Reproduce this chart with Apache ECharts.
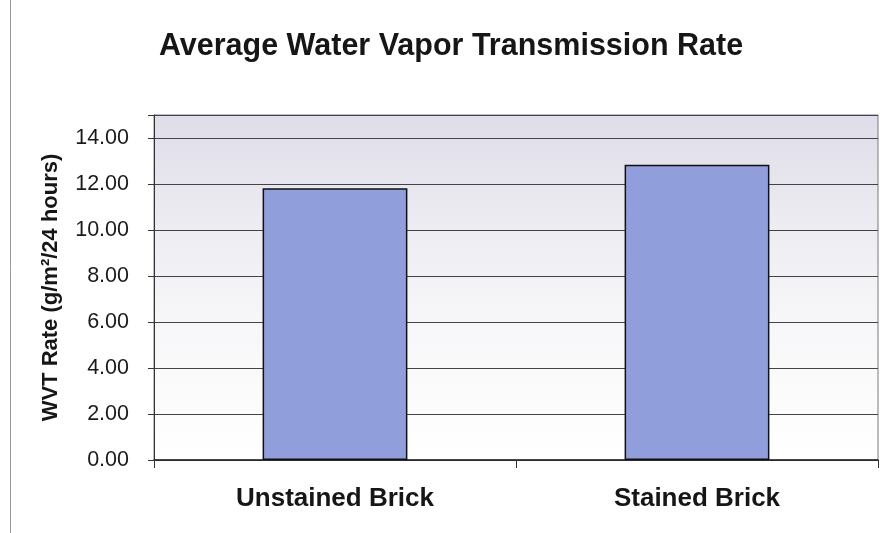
<!DOCTYPE html>
<html>
<head>
<meta charset="utf-8">
<script src="https://cdn.jsdelivr.net/npm/echarts@6/dist/echarts.min.js"></script>
<style>
html,body{margin:0;padding:0;background:#fff;}
#chart{width:880px;height:533px;}
</style>
</head>
<body>
<div id="chart"></div>
<script>
const categories = ['Unstained Brick', 'Stained Brick'];
const wvtRates = [11.81, 12.84];
const yTicks = [0, 2, 4, 6, 8, 10, 12, 14];

const chart = echarts.init(document.getElementById('chart'), null, {renderer: 'canvas'});
const font = 'Liberation Sans, Arial, sans-serif';
chart.setOption({
  animation: false,
  backgroundColor: '#ffffff',
  title: {
    text: 'Average Water Vapor Transmission Rate',
    left: 446, top: 26, textAlign: 'center',
    textStyle: {fontFamily: font, fontSize: 30.5, fontWeight: 'bold', color: '#161616'}
  },
  graphic: [{
    type: 'line', shape: {x1: 10.5, y1: 0, x2: 10.5, y2: 533},
    style: {stroke: '#9a9a9a', lineWidth: 1}
  }],
  grid: {
    left: 154, top: 115, right: 2, bottom: 73,
    show: true, borderColor: '#7a7a7a', borderWidth: 1,
    backgroundColor: new echarts.graphic.LinearGradient(0, 0, 0, 1, [
      {offset: 0, color: '#dedde9'},
      {offset: 0.3, color: '#ecebf1'},
      {offset: 0.6, color: '#f7f7f9'},
      {offset: 1, color: '#ffffff'}
    ])
  },
  xAxis: {
    type: 'category', data: categories,
    axisLine: {lineStyle: {color: '#222', width: 1.5}},
    axisTick: {show: true, alignWithLabel: false, length: 8, lineStyle: {color: '#333'}},
    axisLabel: {margin: 26, fontFamily: font, fontSize: 26, fontWeight: 'bold', color: '#161616'}
  },
  yAxis: {
    type: 'value', min: 0, max: 15, interval: 2,
    name: 'WVT Rate (g/m²/24 hours)', nameLocation: 'middle', nameRotate: 90, nameGap: 92,
    nameTextStyle: {fontFamily: font, fontSize: 22, fontWeight: 'bold', color: '#161616'},
    axisLine: {show: true, lineStyle: {color: '#333', width: 1}},
    axisTick: {show: true, length: 6, lineStyle: {color: '#333'}},
    axisLabel: {
      margin: 25, fontFamily: font, fontSize: 21.5, color: '#1a1a1a',
      formatter: v => yTicks.includes(v) ? v.toFixed(2) : ''
    },
    splitLine: {show: true, lineStyle: {color: '#444', width: 1}}
  },
  series: [{
    type: 'bar', data: wvtRates, barWidth: '40%',
    itemStyle: {color: '#909edb', borderColor: '#111', borderWidth: 1.5}
  }]
});
</script>
</body>
</html>
